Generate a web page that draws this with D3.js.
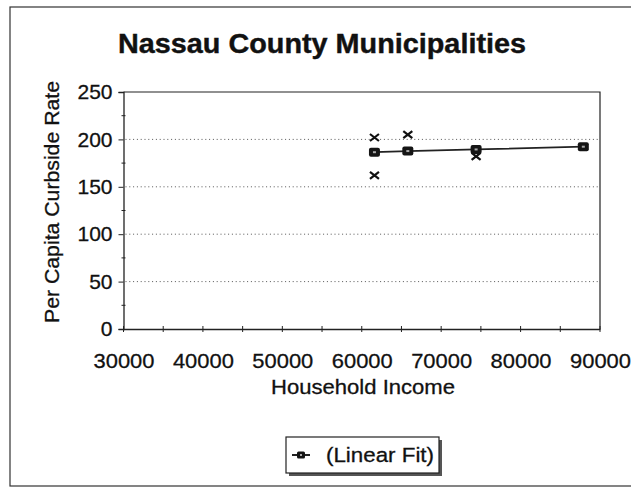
<!DOCTYPE html>
<html><head><meta charset="utf-8">
<script src="https://cdn.jsdelivr.net/npm/d3@7"></script>
<style>body{margin:0;background:#fff}svg{display:block}</style>
</head><body>
<svg id="c" width="631" height="488"></svg>
<script>
const title = "Nassau County Municipalities";
const xLabel = "Household Income";
const yLabel = "Per Capita Curbside Rate";
const xTicks = [30000,40000,50000,60000,70000,80000,90000];
const yTicks = [0,50,100,150,200,250];
const gridValues = [50,100,150,200];
// observed data (x markers)
const dataIncome = [61600, 61600, 65800, 74400];
const dataRate   = [202, 162, 205, 182];
// linear fit points (square markers)
const fitIncome = [61600, 65800, 74400, 87900];
const fitRate   = [186.5, 187.7, 189.4, 192.3];
const legendLabel = "(Linear Fit)";

const svg = d3.select("#c");
const font = "Liberation Sans, Arial, sans-serif";
const L = 123.5, R = 600, T = 92, B = 329;
const x = d3.scaleLinear().domain([30000, 90000]).range([L, R]);
const y = d3.scaleLinear().domain([0, 250]).range([B, T]);
const ink = "#111";

// outer chart border
svg.append("rect").attr("x",10).attr("y",7).attr("width",640).attr("height",479)
  .attr("fill","none").attr("stroke","#333").attr("stroke-width",1.2);

// title
svg.append("text").attr("x",322).attr("y",53).attr("text-anchor","middle")
  .attr("font-family",font).attr("font-weight","bold").attr("font-size",27)
  .attr("textLength",408).attr("lengthAdjust","spacingAndGlyphs")
  .attr("fill",ink).attr("stroke",ink).attr("stroke-width",0.4).text(title);

// gridlines
svg.append("g").selectAll("line").data(gridValues).join("line")
  .attr("x1",L+2).attr("x2",R-2).attr("y1",d=>y(d)).attr("y2",d=>y(d))
  .attr("stroke","#555").attr("stroke-width",1).attr("stroke-dasharray","1,2.8");

// plot border top & right
svg.append("path").attr("d",`M${L},${T}H${R}V${B}`).attr("fill","none")
  .attr("stroke","#222").attr("stroke-width",1.2);

// y axis
const yAxis = d3.axisLeft(y).tickValues(yTicks).tickSize(5).tickPadding(6);
const gy = svg.append("g").attr("transform",`translate(${L},0)`).call(yAxis);
gy.select(".domain").attr("stroke","#222").attr("stroke-width",1.3);
gy.selectAll(".tick line").attr("stroke","#222");
gy.selectAll(".tick text").attr("font-family",font).attr("font-size",21).attr("fill",ink)
  .attr("stroke",ink).attr("stroke-width",0.3);
// minor y ticks
svg.append("g").selectAll("line").data(d3.range(25,250,50)).join("line")
  .attr("x1",L-2).attr("x2",L+2).attr("y1",d=>y(d)).attr("y2",d=>y(d))
  .attr("stroke","#222");

// x axis
const xAxis = d3.axisBottom(x).tickValues(xTicks).tickSize(0).tickPadding(24)
  .tickFormat(d3.format("d"));
const gx = svg.append("g").attr("transform",`translate(0,${B})`).call(xAxis);
gx.select(".domain").attr("stroke","#222").attr("stroke-width",1.3);
gx.selectAll(".tick text").attr("font-family",font).attr("font-size",21).attr("fill",ink)
  .attr("textLength",61).attr("lengthAdjust","spacingAndGlyphs")
  .attr("stroke",ink).attr("stroke-width",0.3);
svg.append("g").selectAll("line").data(d3.range(30000,90001,5000)).join("line")
  .attr("x1",d=>x(d)).attr("x2",d=>x(d)).attr("y1",B-3).attr("y2",B+3)
  .attr("stroke","#222");

// axis titles
svg.append("text").attr("x",363).attr("y",394).attr("text-anchor","middle")
  .attr("font-family",font).attr("font-size",21).attr("fill",ink)
  .attr("textLength",184).attr("lengthAdjust","spacingAndGlyphs")
  .attr("stroke",ink).attr("stroke-width",0.3).text(xLabel);
svg.append("text").attr("transform",`translate(59,202) rotate(-90)`).attr("text-anchor","middle")
  .attr("font-family",font).attr("font-size",21).attr("fill",ink)
  .attr("textLength",242).attr("lengthAdjust","spacingAndGlyphs")
  .attr("stroke",ink).attr("stroke-width",0.3).text(yLabel);

// data x markers
const xm = svg.append("g");
dataIncome.forEach((v,i)=>{
  const cx = x(v), cy = y(dataRate[i]);
  xm.append("path").attr("d",`M${cx-4.5},${cy-3.5}L${cx+4.5},${cy+3.5}M${cx-4.5},${cy+3.5}L${cx+4.5},${cy-3.5}`)
    .attr("stroke","#111").attr("stroke-width",2.2).attr("fill","none");
});

// fit line
const line = d3.line().x((d,i)=>x(fitIncome[i])).y((d,i)=>y(fitRate[i]));
svg.append("path").datum(fitRate).attr("d",line).attr("fill","none")
  .attr("stroke","#222").attr("stroke-width",1.8);
const sq = svg.append("g");
fitIncome.forEach((v,i)=>{
  const cx = x(v), cy = y(fitRate[i]);
  sq.append("rect").attr("x",cx-5.5).attr("y",cy-4.5).attr("width",11).attr("height",9).attr("rx",2)
    .attr("fill","#151515");
  sq.append("rect").attr("x",cx-1.5).attr("y",cy-1).attr("width",3).attr("height",2)
    .attr("fill","#aaa");
});

// legend
const lg = svg.append("g");
lg.append("rect").attr("x",289).attr("y",440).attr("width",153).attr("height",36).attr("fill","#555");
lg.append("rect").attr("x",286).attr("y",437).attr("width",153).attr("height",36)
  .attr("fill","#fff").attr("stroke","#222").attr("stroke-width",1.2);
lg.append("line").attr("x1",292).attr("x2",310).attr("y1",455).attr("y2",455)
  .attr("stroke","#222").attr("stroke-width",2);
lg.append("rect").attr("x",297).attr("y",451.5).attr("width",8).attr("height",7).attr("rx",1.5).attr("fill","#151515");
lg.append("rect").attr("x",300).attr("y",454).attr("width",2).attr("height",2).attr("fill","#aaa");
lg.append("text").attr("x",326).attr("y",462).attr("font-family",font).attr("font-size",20.5)
  .attr("textLength",108).attr("lengthAdjust","spacingAndGlyphs")
  .attr("fill",ink).attr("stroke",ink).attr("stroke-width",0.3).text(legendLabel);
</script>
</body></html>
